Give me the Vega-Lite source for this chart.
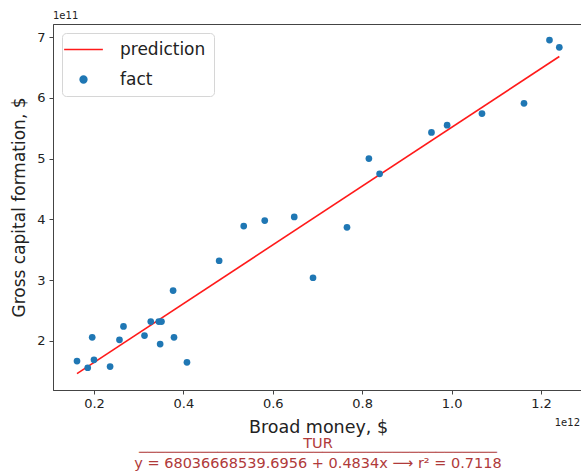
{
  "$schema": "https://vega.github.io/schema/vega-lite/v6.json",
  "autosize": {"type": "none"},
  "padding": {"left": 53, "top": 24, "right": 0, "bottom": 83},
  "width": 530,
  "height": 366,
  "background": "white",
  "config": {
    "font": "DejaVu Sans",
    "view": {"stroke": "#444", "strokeWidth": 1},
    "point": {"size": 45},
    "axis": {
      "grid": false,
      "domainColor": "#444",
      "tickColor": "#444",
      "tickSize": 4,
      "labelColor": "#222",
      "titleColor": "#222",
      "labelFontSize": 13,
      "titleFontSize": 17.5,
      "titleFontWeight": "normal",
      "labelFont": "DejaVu Sans",
      "titleFont": "DejaVu Sans"
    }
  },
  "title": {
    "text": "TUR",
    "subtitle": ["─────────────────────────────────────────", "y = 68036668539.6956 + 0.4834x ⟶ r² = 0.7118"],
    "orient": "bottom",
    "anchor": "middle",
    "frame": "group",
    "color": "#b03a3a",
    "subtitleColor": "#b03a3a",
    "font": "DejaVu Sans",
    "subtitleFont": "DejaVu Sans",
    "fontSize": 14.5,
    "fontWeight": "normal",
    "subtitleFontSize": 14.5,
    "subtitleLineHeight": 11,
    "subtitlePadding": -5,
    "offset": 1
  },
  "layer": [
    {
      "data": {"values": [
        {"x": 162000000000, "y": 146340000000, "series": "prediction"},
        {"x": 1241000000000, "y": 667930000000, "series": "prediction"}
      ]},
      "mark": {"type": "line", "strokeWidth": 1.6},
      "encoding": {
        "x": {"field": "x", "type": "quantitative", "scale": {"domain": [108300000000, 1294000000000], "nice": false, "zero": false},
          "axis": {"values": [200000000000, 400000000000, 600000000000, 800000000000, 1000000000000, 1200000000000], "labelExpr": "format(datum.value/1e12, '.1f')", "title": "Broad money, $", "titlePadding": 8, "labelPadding": 3}},
        "y": {"field": "y", "type": "quantitative", "scale": {"domain": [119400000000, 721400000000], "nice": false, "zero": false},
          "axis": {"values": [200000000000, 300000000000, 400000000000, 500000000000, 600000000000, 700000000000], "labelExpr": "format(datum.value/1e11, 'd')", "title": "Gross capital formation, $", "titleFontSize": 17, "titlePadding": 8, "labelPadding": 4}},
        "color": {"field": "series", "type": "nominal", "scale": {"domain": ["prediction", "fact"], "range": ["#ff1a1a", "#1f77b4"]},
          "legend": {
            "title": null,
            "orient": "top-left",
            "offset": 9,
            "padding": 8,
            "strokeColor": "#d6d6d6",
            "fillColor": "white",
            "cornerRadius": 4,
            "labelFontSize": 17,
            "labelFont": "DejaVu Sans",
            "labelColor": "#222",
            "labelOffset": 28,
            "symbolOffset": 5,
            "rowPadding": 12,
            "symbolSize": 1500,
            "encode": {"symbols": {"update": {
              "shape": {"signal": "datum.value === 'prediction' ? 'stroke' : 'circle'"},
              "size": {"signal": "datum.value === 'prediction' ? 1500 : 45"},
              "stroke": {"signal": "datum.value === 'prediction' ? '#ff1a1a' : 'transparent'"},
              "fill": {"signal": "datum.value === 'prediction' ? 'transparent' : '#1f77b4'"},
              "strokeWidth": {"value": 1.6},
              "opacity": {"value": 1}
            }}}
          }}
      }
    },
    {
      "data": {"values": [
        {"x": 162000000000, "y": 167000000000, "series": "fact"},
        {"x": 186000000000, "y": 156000000000, "series": "fact"},
        {"x": 196000000000, "y": 206000000000, "series": "fact"},
        {"x": 200000000000, "y": 169000000000, "series": "fact"},
        {"x": 236000000000, "y": 158000000000, "series": "fact"},
        {"x": 257000000000, "y": 202000000000, "series": "fact"},
        {"x": 266000000000, "y": 224000000000, "series": "fact"},
        {"x": 313000000000, "y": 209000000000, "series": "fact"},
        {"x": 327000000000, "y": 232000000000, "series": "fact"},
        {"x": 345000000000, "y": 232000000000, "series": "fact"},
        {"x": 351000000000, "y": 232000000000, "series": "fact"},
        {"x": 348000000000, "y": 195000000000, "series": "fact"},
        {"x": 377000000000, "y": 283000000000, "series": "fact"},
        {"x": 379000000000, "y": 206000000000, "series": "fact"},
        {"x": 408000000000, "y": 165000000000, "series": "fact"},
        {"x": 480000000000, "y": 332000000000, "series": "fact"},
        {"x": 535000000000, "y": 389000000000, "series": "fact"},
        {"x": 582000000000, "y": 398000000000, "series": "fact"},
        {"x": 648000000000, "y": 404000000000, "series": "fact"},
        {"x": 690000000000, "y": 304000000000, "series": "fact"},
        {"x": 766000000000, "y": 387000000000, "series": "fact"},
        {"x": 815000000000, "y": 500000000000, "series": "fact"},
        {"x": 839000000000, "y": 475000000000, "series": "fact"},
        {"x": 955000000000, "y": 543000000000, "series": "fact"},
        {"x": 990000000000, "y": 555000000000, "series": "fact"},
        {"x": 1068000000000, "y": 574000000000, "series": "fact"},
        {"x": 1162000000000, "y": 591000000000, "series": "fact"},
        {"x": 1219000000000, "y": 695000000000, "series": "fact"},
        {"x": 1241000000000, "y": 683000000000, "series": "fact"}
      ]},
      "mark": {"type": "point", "filled": true, "opacity": 1},
      "encoding": {
        "x": {"field": "x", "type": "quantitative"},
        "y": {"field": "y", "type": "quantitative"},
        "color": {"field": "series", "type": "nominal"}
      }
    },
    {
      "data": {"values": [{"label": "1e11"}]},
      "mark": {"type": "text", "align": "left", "baseline": "bottom", "dy": -3, "fontSize": 10, "color": "#222"},
      "encoding": {
        "x": {"datum": 108300000000, "type": "quantitative"},
        "y": {"datum": 721400000000, "type": "quantitative"},
        "text": {"field": "label"}
      }
    },
    {
      "data": {"values": [{"label": "1e12"}]},
      "mark": {"type": "text", "align": "right", "baseline": "middle", "dy": 33, "dx": -3, "fontSize": 10, "color": "#222"},
      "encoding": {
        "x": {"datum": 1294000000000, "type": "quantitative"},
        "y": {"datum": 119400000000, "type": "quantitative"},
        "text": {"field": "label"}
      }
    }
  ]
}
